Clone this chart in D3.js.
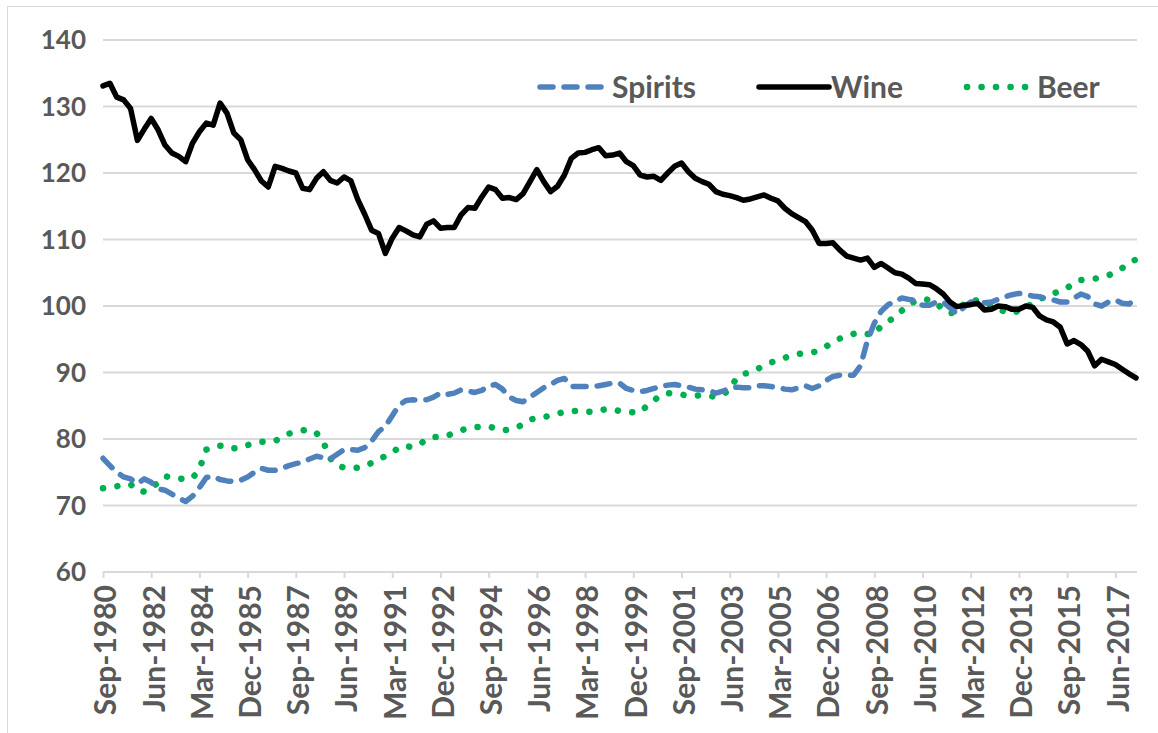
<!DOCTYPE html>
<html>
<head>
<meta charset="utf-8">
<script src="https://cdn.jsdelivr.net/npm/d3@7"></script>
<style>
body{margin:0;background:#fff;}
text{font-family:Lato,"Open Sans",sans-serif;font-weight:bold;fill:#595959;}
</style>
</head>
<body>
<div id="chart"></div>
<script>
// quarterly index values, Sep-1980 .. Mar-2018
var wine = [133.1,133.5,131.4,131.0,129.7,124.9,126.6,128.2,126.5,124.2,
    123.0,122.5,121.7,124.5,126.2,127.5,127.2,130.5,129.0,126.0,
    125.0,122.0,120.5,118.8,117.9,121.0,120.7,120.3,120.0,117.7,
    117.5,119.2,120.2,118.9,118.5,119.4,118.8,116.0,113.8,111.4,
    110.9,107.9,110.2,111.8,111.3,110.7,110.4,112.3,112.8,111.7,
    111.8,111.8,113.7,114.8,114.7,116.4,117.9,117.5,116.2,116.3,
    116.0,116.9,118.7,120.5,118.7,117.2,118.0,119.7,122.2,123.0,
    123.1,123.5,123.8,122.6,122.7,123.0,121.7,121.1,119.7,119.4,
    119.5,118.9,120.0,121.0,121.5,120.2,119.2,118.7,118.3,117.2,
    116.8,116.6,116.3,115.9,116.1,116.4,116.7,116.2,115.8,114.7,
    113.9,113.3,112.7,111.4,109.4,109.4,109.5,108.4,107.5,107.2,
    106.9,107.2,105.8,106.4,105.7,105.0,104.8,104.2,103.4,103.3,
    103.2,102.6,101.8,100.6,99.9,100.1,100.2,100.4,99.4,99.5,
    100.0,99.9,99.5,99.5,100.0,99.8,98.5,97.9,97.6,96.8,
    94.3,94.8,94.2,93.2,91.0,92.0,91.6,91.2,90.5,89.8,89.2]

var spirits = [77.1,76.0,75.0,74.3,74.0,73.3,74.0,73.5,72.5,72.3,
    71.7,71.1,70.6,71.4,72.7,74.2,74.4,73.9,73.7,73.6,
    73.8,74.3,75.0,75.6,75.3,75.3,75.6,76.0,76.3,76.5,
    77.0,77.4,77.2,77.0,77.7,78.4,78.4,78.3,78.7,79.7,
    81.1,81.9,83.5,85.1,85.8,85.9,85.8,85.9,86.3,86.9,
    86.7,86.9,87.4,87.2,87.0,87.3,88.0,88.2,87.5,86.3,
    85.8,85.6,86.3,87.0,87.7,88.2,88.8,89.1,87.9,87.9,
    87.9,87.9,88.0,88.2,88.4,88.4,87.6,87.3,87.1,87.3,
    87.6,87.9,88.1,88.2,88.0,87.8,87.5,87.4,87.3,86.9,
    87.2,87.6,87.8,87.7,87.7,88.0,88.0,87.9,87.7,87.5,
    87.4,87.7,88.0,87.6,88.0,88.8,89.4,89.6,89.6,89.6,
    91.0,94.8,97.4,99.2,100.2,100.7,101.2,101.0,100.8,100.1,
    100.1,100.6,100.6,99.7,98.8,99.8,100.6,100.6,100.5,100.6,
    101.0,101.4,101.7,101.9,101.7,101.5,101.4,101.1,100.9,100.6,
    100.6,101.2,101.8,101.4,100.3,100.0,100.6,100.9,100.4,100.3,101.1]

var beer = [72.6,72.7,72.9,73.1,73.2,72.2,72.1,72.5,73.5,74.4,
    74.2,74.0,74.1,74.1,75.5,78.4,78.8,79.0,79.0,78.6,
    78.7,79.1,79.3,79.6,79.6,79.7,80.3,80.8,81.1,81.3,
    81.4,80.9,79.5,77.1,76.0,75.7,75.6,75.7,75.9,76.4,
    77.0,77.4,77.9,78.8,78.9,78.8,79.2,80.0,80.3,80.3,
    80.5,80.9,81.3,81.6,81.8,81.8,81.9,81.6,81.3,81.4,
    81.7,82.2,82.9,83.2,83.3,83.5,83.8,84.1,84.2,84.2,
    84.1,84.1,84.2,84.5,84.5,84.2,84.1,84.0,84.0,85.0,
    85.8,86.6,86.9,86.8,86.7,86.5,86.5,86.6,86.5,86.3,
    86.7,87.4,89.2,89.8,90.0,90.5,91.1,91.5,91.9,92.2,
    92.6,92.8,92.9,93.0,93.3,93.9,94.6,95.1,95.5,95.8,
    96.0,95.8,95.7,97.0,97.7,98.3,99.3,100.3,100.7,101.1,
    100.9,100.5,99.4,98.9,99.1,100.3,100.9,100.8,100.5,100.1,
    99.6,99.1,98.9,99.3,99.8,100.4,101.0,101.5,101.9,102.2,
    102.7,103.5,103.9,104.0,104.1,104.3,104.6,105.1,105.7,106.5,107.0]

var tickLabels = ["Sep-1980","Jun-1982","Mar-1984","Dec-1985","Sep-1987","Jun-1989",
    "Mar-1991","Dec-1992","Sep-1994","Jun-1996","Mar-1998","Dec-1999","Sep-2001",
    "Jun-2003","Mar-2005","Dec-2006","Sep-2008","Jun-2010","Mar-2012","Dec-2013",
    "Sep-2015","Jun-2017"]
var yTicks = [60,70,80,90,100,110,120,130,140]

// one category per quarter
var months = ["Mar","Jun","Sep","Dec"]
var categories = []
for(var i=0;i<wine.length;i++){
    var q = i+2
    categories.push(months[q%4]+"-"+(1980+Math.floor(q/4)))
}

var width = 1158, height = 733
var svg = d3.select("#chart").append("svg").attr("width",width).attr("height",height)

svg.append("rect").attr("x",7.5).attr("y",6.5).attr("width",1160).attr("height",740)
    .style("fill","none").style("stroke","#d9d9d9").style("stroke-width",1)

var x = d3.scalePoint().domain(categories).range([103,1136])
var y = d3.scaleLinear().domain([60,140]).range([572,40])

// gridlines
svg.selectAll(".grid")
    .data(yTicks.slice(1))
    .enter().append("line")
    .attr("x1",103).attr("x2",1137)
    .attr("y1",function(d){return y(d)})
    .attr("y2",function(d){return y(d)})
    .style("stroke","#d9d9d9").style("stroke-width",2)

svg.selectAll(".ylab")
    .data(yTicks)
    .enter().append("text")
    .attr("x",86).attr("y",function(d){return y(d)})
    .attr("dy","0.36em")
    .attr("text-anchor","end")
    .style("font-size","26px")
    .text(function(d){return d})

// x axis
var xAxis = d3.axisBottom(x)
    .tickValues(tickLabels)
    .tickSize(6)
    .tickSizeOuter(0)
var gx = svg.append("g").attr("transform","translate(0,572)").call(xAxis)
gx.select(".domain").attr("d","M103,0H1137").style("stroke","#d9d9d9").style("stroke-width",2)
gx.selectAll(".tick line").style("stroke","#d9d9d9").style("stroke-width",2)
gx.selectAll(".tick text")
    .attr("transform","rotate(-90)")
    .attr("x",-13).attr("y",2).attr("dy","0.36em")
    .attr("text-anchor","end")
    .style("font-size","30px")
    .style("font-family","Lato")
    .style("fill","#595959")

var line = d3.line()
    .x(function(d,i){return x(categories[i])})
    .y(function(d){return y(d)})

var styles = {
    spirits:{color:"#4f81bd",dash:"13,11",cap:"round",w:5.5},
    wine:{color:"#000000",dash:null,cap:"round",w:5.5},
    beer:{color:"#00b050",dash:"0.1,14.4",cap:"round",w:6.5}
}

function drawSeries(data,st){
    svg.append("path")
        .datum(data)
        .attr("d",line)
        .style("fill","none")
        .style("stroke",st.color)
        .style("stroke-width",st.w)
        .style("stroke-linecap",st.cap)
        .style("stroke-linejoin","round")
        .style("stroke-dasharray",st.dash)
}
drawSeries(beer,styles.beer)
drawSeries(spirits,styles.spirits)
drawSeries(wine,styles.wine)

// legend
var legend = [
    {name:"Spirits",st:styles.spirits,x1:540,x2:602,tx:612},
    {name:"Wine",st:styles.wine,x1:759,x2:829,tx:831},
    {name:"Beer",st:styles.beer,x1:967,x2:1031,tx:1037}
]
var ly = 87
legend.forEach(function(l){
    svg.append("line")
        .attr("x1",l.x1).attr("x2",l.x2).attr("y1",ly).attr("y2",ly)
        .style("stroke",l.st.color)
        .style("stroke-width",l.st.w)
        .style("stroke-linecap",l.st.cap)
        .style("stroke-dasharray",l.st.dash)
    svg.append("text")
        .attr("x",l.tx).attr("y",ly).attr("dy","0.36em")
        .style("font-size","30px")
        .text(l.name)
})
</script>
</body>
</html>
